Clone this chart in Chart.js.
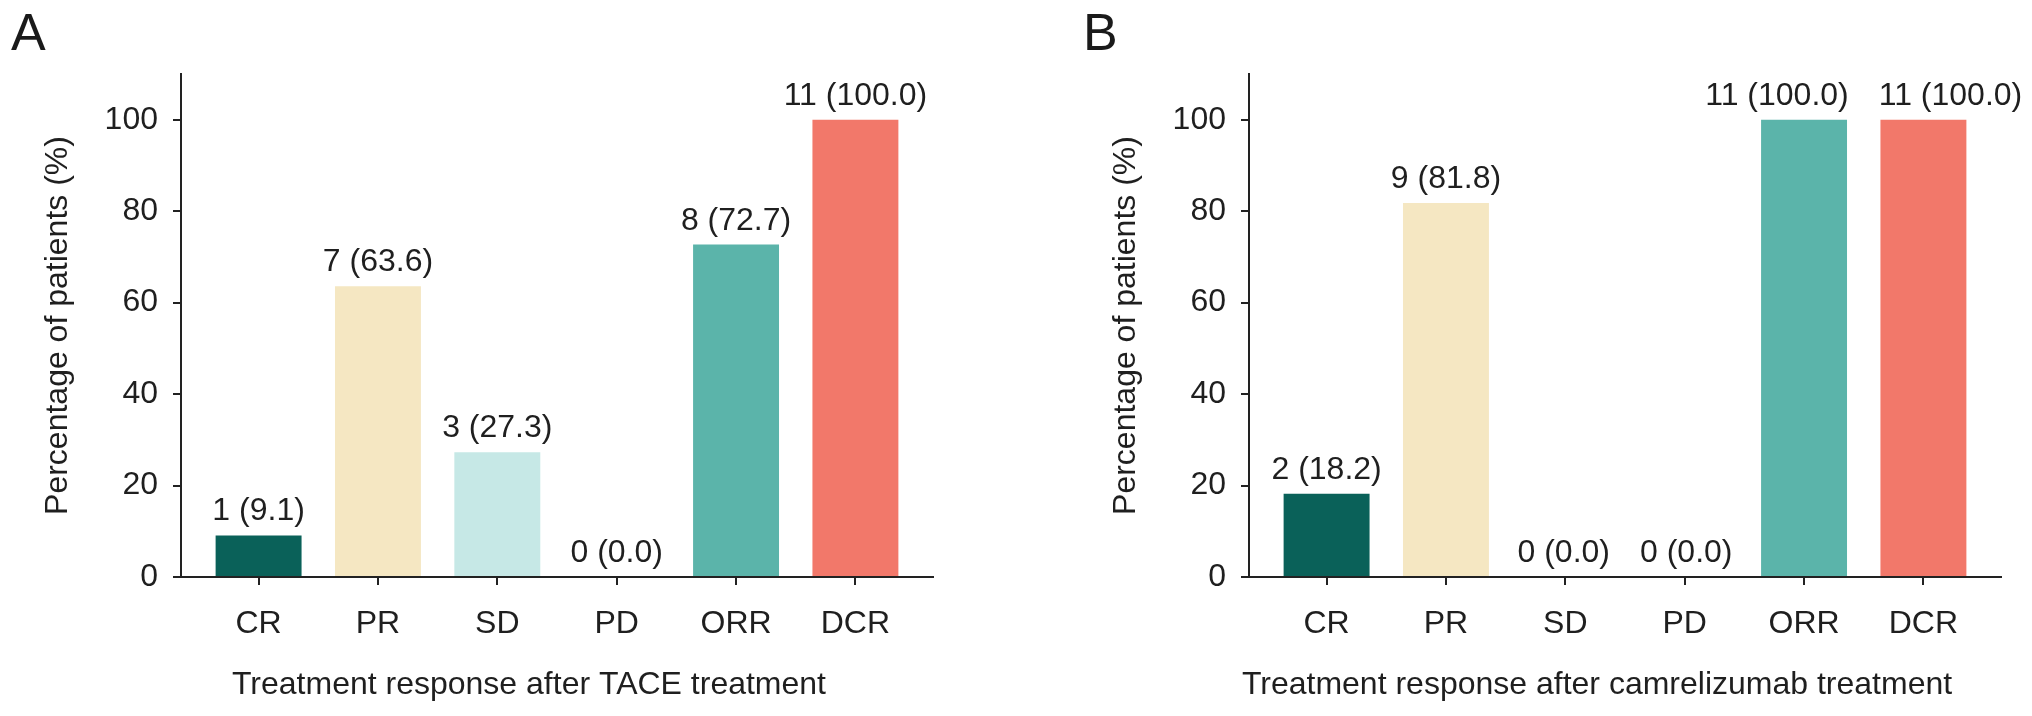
<!DOCTYPE html>
<html>
<head>
<meta charset="utf-8">
<script src="https://cdn.jsdelivr.net/npm/chart.js@4"></script>
<style>
  body { margin: 0; background: #fff; }
  #page { position: relative; width: 2032px; height: 716px; overflow: hidden; }
  .box { position: absolute; top: 0; height: 716px; }
  .tag { position: absolute; top: 6px; font: 52px "Liberation Sans", Arial, sans-serif; line-height: 52px; color: #1a1a1a; }
</style>
</head>
<body>
<div id="page">
  <div class="tag" style="left: 11px">A</div>
  <div class="tag" style="left: 1083px">B</div>
  <div class="box" style="left: 0; width: 1068px"><canvas id="chartA"></canvas></div>
  <div class="box" style="left: 1068px; width: 964px"><canvas id="chartB"></canvas></div>
</div>
<script>
const categorias = ['CR', 'PR', 'SD', 'PD', 'ORR', 'DCR']
const coresBarras = ['#0a6159', '#f5e7c2', '#c6e8e6', '#c6e8e6', '#5bb4aa', '#f2786a']
const yTicks = [0, 20, 40, 60, 80, 100]

// Painel A: após TACE
const pacientesA = [1, 7, 3, 0, 8, 11]
const percentA = [9.1, 63.6, 27.3, 0.0, 72.7, 100.0]

// Painel B: após camrelizumab
const pacientesB = [2, 9, 0, 0, 11, 11]
const percentB = [18.2, 81.8, 0.0, 0.0, 100.0, 100.0]

const fonte = '"Liberation Sans", Arial, sans-serif'
const corTexto = '#1f1f1f'

// Rótulos "n (%)" acima de cada barra, afastando os que se sobrepõem
const rotulosPlugin = {
  id: 'rotulos',
  afterDatasetsDraw(chart) {
    const { ctx } = chart
    const contagens = chart.options.plugins.rotulos.contagens
    const meta = chart.getDatasetMeta(0)
    ctx.save()
    ctx.font = `32px ${fonte}`
    ctx.fillStyle = corTexto
    ctx.textAlign = 'center'
    ctx.textBaseline = 'alphabetic'

    const itens = meta.data.map((bar, i) => {
      const pct = chart.data.datasets[0].data[i].y
      const texto = `${contagens[i]} (${pct.toFixed(1)})`
      return { texto, x: bar.x, y: bar.y - 15, w: ctx.measureText(texto).width }
    })
    const folga = 30
    for (let i = 0; i < itens.length - 1; i++) {
      const a = itens[i]
      const b = itens[i + 1]
      if (Math.abs(a.y - b.y) > 30) continue
      const falta = (a.w + b.w) / 2 + folga - (b.x - a.x)
      if (falta > 0) {
        a.x -= falta / 2
        b.x += falta / 2
      }
    }
    itens.forEach(it => ctx.fillText(it.texto, it.x, it.y))
    ctx.restore()
  },
  afterDraw(chart) {
    // título do eixo x, um pouco à esquerda do centro como no original
    const { ctx, chartArea } = chart
    const opts = chart.options.plugins.rotulos
    ctx.save()
    ctx.font = `32px ${fonte}`
    ctx.fillStyle = corTexto
    ctx.textAlign = 'center'
    ctx.textBaseline = 'middle'
    ctx.fillText(opts.tituloX, (chartArea.left + chartArea.right) / 2 - 28, 685)
    ctx.restore()
  }
}

function criarGrafico(id, contagens, percentuais, titulo, padDireita) {
  const ctx = document.getElementById(id).getContext('2d')
  return new Chart(ctx, {
    type: 'bar',
    data: {
      datasets: [
        {
          data: percentuais.map((v, i) => ({ x: i, y: v })),
          backgroundColor: coresBarras,
          borderWidth: 0,
          categoryPercentage: 0.8,
          barPercentage: 0.9
        }
      ]
    },
    options: {
      responsive: true,
      maintainAspectRatio: false,
      animation: false,
      layout: { padding: { top: 74, right: padDireita, bottom: 0, left: 0 } },
      plugins: {
        legend: { display: false },
        tooltip: { enabled: false },
        rotulos: { contagens: contagens, tituloX: titulo }
      },
      scales: {
        x: {
          type: 'linear',
          offset: false,
          min: -0.65,
          max: 5.65,
          afterBuildTicks: s => {
            s.ticks = categorias.map((c, i) => ({ value: i }))
          },
          afterFit: s => {
            s.height = 139
          },
          border: { display: true, color: '#222', width: 2 },
          grid: { offset: false, drawOnChartArea: false, drawTicks: true, tickLength: 8, color: '#222', lineWidth: 2 },
          ticks: {
            padding: 20,
            color: corTexto,
            font: { family: fonte, size: 32 },
            callback: v => categorias[v]
          }
        },
        y: {
          min: 0,
          max: 110,
          afterBuildTicks: s => {
            s.ticks = yTicks.map(v => ({ value: v }))
          },
          afterFit: s => {
            s.width = 181
          },
          border: { display: true, color: '#222', width: 2 },
          grid: { drawOnChartArea: false, drawTicks: true, tickLength: 8, color: '#222', lineWidth: 2 },
          ticks: {
            padding: 15,
            color: corTexto,
            font: { family: fonte, size: 32 }
          },
          title: {
            display: true,
            text: 'Percentage of patients (%)',
            color: corTexto,
            font: { family: fonte, size: 32 },
            padding: 39
          }
        }
      }
    },
    plugins: [rotulosPlugin]
  })
}

criarGrafico('chartA', pacientesA, percentA, 'Treatment response after TACE treatment', 135)
criarGrafico('chartB', pacientesB, percentB, 'Treatment response after camrelizumab treatment', 31)
</script>
</body>
</html>
